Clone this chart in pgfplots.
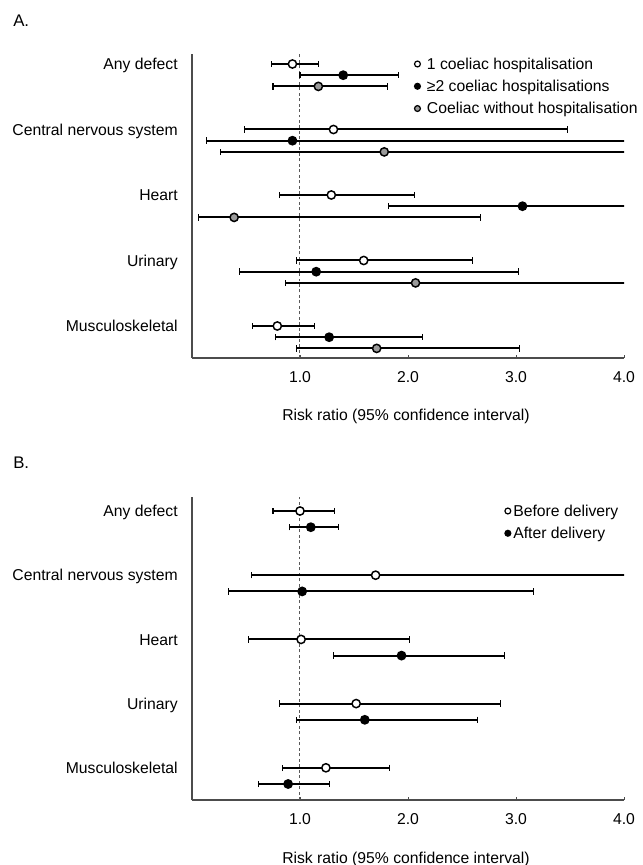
\documentclass[border=0pt]{standalone}
\usepackage{fontspec}
\setmainfont{Liberation Sans}
\usepackage{pgfplots}
\pgfplotsset{compat=1.18}
\usepackage{pgfplotstable}

% y = row position (pixels from top, negated), rr = risk ratio, lo/hi = 95% CI
% upper limits beyond 4.0 run off the scale (estimated 4.3, clipped at 4.0)
\pgfplotstableread{
y      rr   lo   hi
-64    0.93 0.74 1.17
-129.5 1.31 0.49 3.48
-195   1.29 0.81 2.06
-260.5 1.59 0.97 2.60
-326   0.79 0.56 1.13
}\Aone
\pgfplotstableread{
y      rr   lo   hi
-75.2  1.40 1.00 1.91
-140.7 0.93 0.13 4.30
-206.2 3.06 1.82 4.30
-271.7 1.15 0.44 3.02
-337.2 1.27 0.77 2.13
}\Atwo
\pgfplotstableread{
y      rr   lo   hi
-86.4  1.17 0.75 1.81
-151.9 1.78 0.26 4.30
-217.4 0.39 0.06 2.67
-282.9 2.07 0.87 4.30
-348.4 1.71 0.97 3.03
}\Athree
\pgfplotstableread{
y      rr   lo   hi
-511   1.00 0.75 1.32
-575.2 1.70 0.55 4.30
-639.4 1.01 0.52 2.01
-703.6 1.52 0.81 2.86
-767.8 1.24 0.84 1.83
}\Bone
\pgfplotstableread{
y      rr   lo   hi
-527.2 1.10 0.90 1.36
-591.4 1.02 0.34 3.16
-655.6 1.94 1.31 2.89
-719.8 1.60 0.97 2.64
-784   0.89 0.62 1.27
}\Btwo

\definecolor{cgray}{HTML}{9A9A9A}

\pgfplotsset{
  forest/.style={
    scale only axis, width=324pt, xmin=0, xmax=4,
    axis x line*=bottom, axis y line*=left,
    axis line style={-, draw=black!70, line width=0.9pt},
    xtick={1,2,3,4}, xticklabels={1.0,2.0,3.0,4.0},
    tick align=inside, major tick length=2.5pt,
    x tick style={black!70, line width=0.7pt},
    y tick style={draw=none},
    xticklabel style={anchor=base, inner sep=0pt, yshift=-18.5pt},
    yticklabel style={anchor=base east, inner sep=0pt, xshift=-10.5pt, yshift=-4.2pt},
    xlabel={Risk ratio (95\% confidence interval)},
    xlabel style={at={(axis description cs:0.5,0)}, anchor=base, inner sep=0pt, yshift=-47pt, xshift=-1.5pt},
    yticklabels={Any defect, Central nervous system, Heart, Urinary, Musculoskeletal},
    legend cell align=left,
  },
  legimg/.style={legend image code/.code={\draw[draw=black, line width=0.9pt, fill=#1] (0pt,0pt) circle (2.2pt);}},
  ci/.style={
    legimg=#1,
    only marks, mark=*, mark size=3.1pt,
    mark options={draw=black, line width=1.1pt, fill=#1},
    error bars/x dir=both, error bars/x explicit,
    error bars/error bar style={line width=1.5pt, black},
    error bars/error mark=|,
    error bars/error mark options={black, line width=0.8pt, mark size=2.4pt, fill=none},
  },
}

\begin{document}
\fontsize{11.8}{14}\selectfont
\begin{tikzpicture}

% ---------------- Panel A ----------------
\begin{axis}[forest, at={(144pt,380.25pt)}, anchor=south west, height=228pt,
  ymin=-358, ymax=-54, ytick={-64,-129.5,-195,-260.5,-326},
  legend style={at={(axis cs:2.055,-54)}, anchor=north west, draw=none, fill=none,
    inner sep=0pt, outer sep=0pt, row sep=1.7pt,
    nodes={inner ysep=1pt, inner xsep=4.45pt, text height=10.5pt, text depth=2.5pt}},
]
\addplot[forget plot, black!65, line width=0.75pt, dash pattern=on 2.2pt off 1.9pt] coordinates {(1,-358) (1,-54)};
\addplot[ci=white] table[x=rr, y=y, x error plus expr=\thisrow{hi}-\thisrow{rr}, x error minus expr=\thisrow{rr}-\thisrow{lo}] {\Aone};
\addlegendentry{1 coeliac hospitalisation}
\addplot[ci=black] table[x=rr, y=y, x error plus expr=\thisrow{hi}-\thisrow{rr}, x error minus expr=\thisrow{rr}-\thisrow{lo}] {\Atwo};
\addlegendentry{≥2 coeliac hospitalisations}
\addplot[ci=cgray] table[x=rr, y=y, x error plus expr=\thisrow{hi}-\thisrow{rr}, x error minus expr=\thisrow{rr}-\thisrow{lo}] {\Athree};
\addlegendentry{Coeliac without hospitalisation}
\end{axis}

% ---------------- Panel B ----------------
\begin{axis}[forest, at={(144pt,48.75pt)}, anchor=south west, height=227.25pt,
  ymin=-800, ymax=-497, ytick={-511,-575.2,-639.4,-703.6,-767.8},
  xlabel style={yshift=-0.75pt},
  legend style={at={(axis cs:2.892,-501)}, anchor=north west, draw=none, fill=none,
    inner sep=0pt, outer sep=0pt, row sep=1.7pt,
    nodes={inner ysep=1pt, inner xsep=1.45pt, text height=10.5pt, text depth=2.5pt}},
]
\addplot[forget plot, black!65, line width=0.75pt, dash pattern=on 2.2pt off 1.9pt] coordinates {(1,-800) (1,-497)};
\addplot[ci=white] table[x=rr, y=y, x error plus expr=\thisrow{hi}-\thisrow{rr}, x error minus expr=\thisrow{rr}-\thisrow{lo}] {\Bone};
\addlegendentry{Before delivery}
\addplot[ci=black] table[x=rr, y=y, x error plus expr=\thisrow{hi}-\thisrow{rr}, x error minus expr=\thisrow{rr}-\thisrow{lo}] {\Btwo};
\addlegendentry{After delivery}
\end{axis}

\node[anchor=base west, inner sep=0pt, font=\fontsize{12.6}{14}\selectfont] at (9.75pt,628.95pt) {A.};
\node[anchor=base west, inner sep=0pt, font=\fontsize{12.6}{14}\selectfont] at (9.75pt,297pt) {B.};

\pgfresetboundingbox
\path[use as bounding box] (0pt,0pt) rectangle (482.25pt,648.75pt);
\end{tikzpicture}
\end{document}
